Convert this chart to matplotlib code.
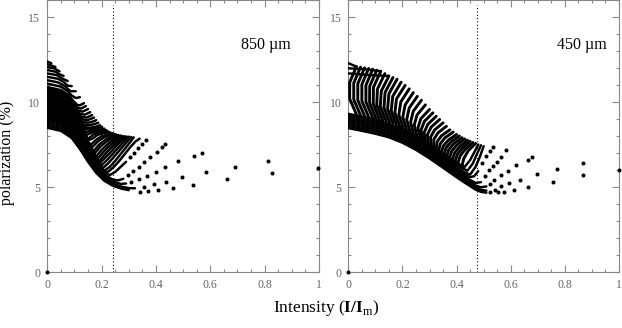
import numpy as np
import matplotlib
matplotlib.use("Agg")
import matplotlib.pyplot as plt
from matplotlib.ticker import MultipleLocator

plt.rcParams["font.family"] = ["Liberation Serif", "DejaVu Serif"]
plt.rcParams["mathtext.fontset"] = "custom"
plt.rcParams["mathtext.rm"] = "Liberation Serif"
plt.rcParams["mathtext.bf"] = "Liberation Serif:bold"

# 850 um: dense strokes (intensity, polarization)
left_strokes = [
    ([0, 0.05, 0.09, 0.12, 0.15, 0.18, 0.21, 0.24, 0.27, 0.30],
     [8.5, 8.32, 7.9, 7.25, 6.5, 5.85, 5.38, 5.1, 4.93, 4.83]),
    ([0, 0.05, 0.09, 0.12, 0.15, 0.18, 0.21, 0.24, 0.27, 0.30, 0.323],
     [8.62, 8.44, 8.02, 7.37, 6.62, 5.97, 5.5, 5.22, 5.05, 4.95, 4.94]),
    ([0, 0.05, 0.09, 0.12, 0.15, 0.18, 0.21, 0.24, 0.27, 0.29],
     [8.74, 8.56, 8.14, 7.49, 6.74, 6.09, 5.62, 5.34, 5.2, 5.22]),
    ([0, 0.05, 0.09, 0.12, 0.15, 0.18, 0.21, 0.24, 0.26, 0.28],
     [8.86, 8.68, 8.26, 7.61, 6.86, 6.21, 5.74, 5.46, 5.4, 5.5]),
    ([0, 0.05, 0.09, 0.12, 0.15, 0.18, 0.21, 0.23, 0.25, 0.27, 0.29],
     [8.98, 8.8, 8.38, 7.73, 6.98, 6.33, 5.86, 5.72, 5.9, 6.2, 6.5]),
    ([0, 0.05, 0.09, 0.12, 0.15, 0.18, 0.21, 0.225, 0.245, 0.265, 0.285, 0.305, 0.325, 0.34],
     [9.04, 8.86, 8.44, 7.79, 7.04, 6.39, 5.92, 5.92, 6.2, 6.55, 6.95, 7.35, 7.7, 7.86]),
    ([0, 0.05, 0.09, 0.12, 0.15, 0.18, 0.21, 0.23, 0.25, 0.27, 0.29, 0.305, 0.318],
     [9.1, 8.92, 8.5, 7.85, 7.1, 6.45, 5.98, 6.2, 6.55, 6.95, 7.35, 7.65, 7.94]),
    ([0, 0.05, 0.09, 0.12, 0.15, 0.18, 0.205, 0.225, 0.245, 0.265, 0.285, 0.309],
     [9.16, 8.98, 8.56, 7.91, 7.16, 6.51, 6.14, 6.42, 6.78, 7.15, 7.52, 7.96]),
    ([0, 0.05, 0.09, 0.12, 0.15, 0.18, 0.20, 0.22, 0.24, 0.26, 0.28, 0.30],
     [9.22, 9.04, 8.62, 7.97, 7.22, 6.57, 6.3, 6.6, 6.95, 7.3, 7.65, 7.98]),
    ([0, 0.05, 0.09, 0.12, 0.15, 0.18, 0.195, 0.215, 0.235, 0.255, 0.275, 0.292],
     [9.28, 9.1, 8.68, 8.03, 7.28, 6.63, 6.45, 6.77, 7.1, 7.45, 7.75, 7.99]),
    ([0, 0.05, 0.09, 0.12, 0.15, 0.19, 0.21, 0.23, 0.25, 0.27, 0.285],
     [9.34, 9.16, 8.74, 8.09, 7.34, 6.52, 6.9, 7.25, 7.55, 7.8, 8.0]),
    ([0, 0.05, 0.09, 0.12, 0.15, 0.185, 0.205, 0.225, 0.245, 0.262, 0.278],
     [9.4, 9.22, 8.8, 8.15, 7.4, 6.68, 7.05, 7.38, 7.65, 7.85, 8.02]),
    ([0, 0.05, 0.09, 0.12, 0.15, 0.18, 0.20, 0.22, 0.24, 0.255, 0.27],
     [9.46, 9.28, 8.86, 8.21, 7.46, 6.81, 7.2, 7.5, 7.75, 7.9, 8.05]),
    ([0, 0.05, 0.09, 0.12, 0.15, 0.175, 0.195, 0.215, 0.235, 0.262],
     [9.52, 9.34, 8.92, 8.27, 7.52, 7.0, 7.38, 7.65, 7.85, 8.07]),
    ([0, 0.05, 0.09, 0.12, 0.15, 0.17, 0.19, 0.21, 0.23, 0.255],
     [9.58, 9.4, 8.98, 8.33, 7.58, 7.13, 7.5, 7.75, 7.93, 8.1]),
    ([0, 0.05, 0.09, 0.12, 0.15, 0.165, 0.185, 0.205, 0.225, 0.248],
     [9.64, 9.46, 9.04, 8.39, 7.64, 7.35, 7.68, 7.9, 8.03, 8.14]),
    ([0, 0.05, 0.09, 0.12, 0.15, 0.16, 0.18, 0.20, 0.22, 0.24],
     [9.7, 9.52, 9.1, 8.45, 7.7, 7.5, 7.8, 8.0, 8.1, 8.18]),
    ([0, 0.05, 0.09, 0.12, 0.15, 0.165, 0.185, 0.21, 0.232],
     [9.76, 9.58, 9.16, 8.51, 7.78, 7.85, 8.08, 8.2, 8.23]),
    ([0, 0.05, 0.09, 0.12, 0.15, 0.17, 0.19, 0.21, 0.225],
     [9.82, 9.64, 9.22, 8.57, 7.85, 8.1, 8.22, 8.25, 8.28]),
    ([0, 0.05, 0.09, 0.12, 0.145, 0.165, 0.185, 0.2, 0.218],
     [9.88, 9.7, 9.28, 8.63, 8.08, 8.22, 8.3, 8.33, 8.36]),
    ([0, 0.05, 0.09, 0.12, 0.14, 0.16, 0.18, 0.195, 0.21],
     [9.94, 9.76, 9.34, 8.69, 8.25, 8.3, 8.35, 8.4, 8.45]),
    ([0, 0.05, 0.09, 0.12, 0.138, 0.158, 0.18, 0.202],
     [10.02, 9.84, 9.42, 8.77, 8.42, 8.4, 8.45, 8.55]),
    ([0, 0.05, 0.09, 0.12, 0.135, 0.155, 0.175, 0.195],
     [10.1, 9.92, 9.5, 8.85, 8.55, 8.5, 8.55, 8.65]),
    ([0, 0.05, 0.09, 0.118, 0.133, 0.152, 0.17, 0.188],
     [10.2, 10.02, 9.6, 9.0, 8.7, 8.65, 8.7, 8.8]),
    ([0, 0.05, 0.09, 0.115, 0.13, 0.15, 0.165, 0.18],
     [10.3, 10.12, 9.7, 9.15, 8.85, 8.8, 8.85, 8.95]),
    ([0, 0.05, 0.09, 0.112, 0.128, 0.148, 0.172],
     [10.4, 10.22, 9.8, 9.3, 9.0, 8.95, 9.1]),
    ([0, 0.05, 0.09, 0.11, 0.125, 0.145, 0.165],
     [10.5, 10.32, 9.9, 9.45, 9.15, 9.1, 9.25]),
    ([0, 0.05, 0.085, 0.105, 0.12, 0.138, 0.158],
     [10.6, 10.42, 10.05, 9.62, 9.32, 9.27, 9.42]),
    ([0, 0.05, 0.08, 0.10, 0.115, 0.13, 0.15],
     [10.7, 10.52, 10.2, 9.8, 9.5, 9.45, 9.6]),
    ([0, 0.05, 0.08, 0.098, 0.112, 0.125, 0.142],
     [10.8, 10.62, 10.3, 9.95, 9.67, 9.63, 9.78]),
    ([0, 0.05, 0.08, 0.095, 0.11, 0.12, 0.135],
     [10.9, 10.72, 10.4, 10.1, 9.85, 9.82, 9.95]),
    ([0, 0.05, 0.075, 0.09, 0.105, 0.12],
     [11.1, 10.92, 10.65, 10.4, 10.25, 10.3]),
    ([0, 0.04, 0.065, 0.085, 0.105], [11.3, 11.17, 10.95, 10.65, 10.65]),
    ([0, 0.04, 0.06, 0.075, 0.09], [11.5, 11.38, 11.2, 10.98, 10.95]),
    ([0, 0.035, 0.055, 0.075], [11.7, 11.6, 11.4, 11.25]),
    ([0, 0.03, 0.045, 0.06], [11.9, 11.8, 11.65, 11.55]),
    ([0, 0.025, 0.045], [12.08, 12.0, 11.82]),
    ([0, 0.03], [12.25, 12.08]),
    ([0, 0.015], [12.4, 12.3]),
]

# 850 um: separate dots on the right
left_dots_x = [0.341, 0.372, 0.408, 0.461, 0.537, 0.663, 0.826, 0.998,
               0.357, 0.394, 0.437, 0.497, 0.585, 0.692, 0.812,
               0.31, 0.339, 0.366, 0.399, 0.434, 0.48, 0.541, 0.568,
               0.298, 0.317, 0.337, 0.357, 0.378, 0.403, 0.421, 0.434,
               0.304, 0.319, 0.335, 0.35, 0.362, 0.0]
left_dots_y = [4.74, 4.78, 4.84, 4.94, 5.13, 5.47, 5.86, 6.12,
               5.04, 5.18, 5.33, 5.59, 5.9, 6.21, 6.57,
               5.33, 5.49, 5.68, 5.92, 6.21, 6.53, 6.86, 7.04,
               5.72, 5.98, 6.21, 6.47, 6.8, 7.1, 7.39, 7.53,
               6.8, 7.04, 7.29, 7.55, 7.78, 0.0]

# 450 um: rows along the lower and upper edges
right_rows = [
    ([0, 0.05, 0.1, 0.15, 0.2, 0.25, 0.3, 0.35, 0.4, 0.43, 0.45, 0.47, 0.49, 0.51],
     [8.48, 8.32, 8.15, 7.94, 7.62, 7.2, 6.7, 6.15, 5.59, 5.27, 5.07, 4.86, 4.73, 4.68]),
    ([0, 0.05, 0.1, 0.15, 0.2, 0.25, 0.3, 0.35, 0.4, 0.43, 0.45, 0.47, 0.49, 0.51],
     [8.6, 8.44, 8.27, 8.06, 7.74, 7.32, 6.82, 6.27, 5.71, 5.39, 5.19, 4.98, 4.85, 4.8]),
    ([0, 0.05, 0.1, 0.15, 0.2, 0.25, 0.3, 0.35, 0.4, 0.43, 0.45, 0.47, 0.49, 0.51],
     [8.72, 8.56, 8.39, 8.18, 7.86, 7.44, 6.94, 6.39, 5.83, 5.51, 5.31, 5.1, 5.0, 5.05]),
    ([0, 0.05, 0.1, 0.15, 0.2, 0.25, 0.3, 0.35, 0.4, 0.43, 0.45, 0.47, 0.49],
     [8.84, 8.68, 8.51, 8.3, 7.98, 7.56, 7.06, 6.51, 5.95, 5.63, 5.43, 5.25, 5.3]),
    ([0, 0.05, 0.1, 0.15, 0.2, 0.25, 0.3, 0.35, 0.4, 0.43, 0.45, 0.465, 0.48],
     [8.96, 8.8, 8.63, 8.42, 8.1, 7.68, 7.18, 6.63, 6.07, 5.75, 5.6, 5.65, 5.95]),
    ([0, 0.1, 0.2, 0.25, 0.3, 0.35, 0.4, 0.43, 0.45, 0.47, 0.485, 0.5],
     [9.08, 8.75, 8.22, 7.8, 7.3, 6.75, 6.19, 5.87, 5.75, 6.2, 6.75, 7.42]),
    ([0, 0.1, 0.2, 0.25, 0.3, 0.35, 0.4, 0.44, 0.46, 0.475, 0.49],
     [9.2, 8.87, 8.34, 7.92, 7.42, 6.87, 6.31, 5.97, 6.4, 6.95, 7.47]),
    ([0, 0.1, 0.2, 0.25, 0.3, 0.35, 0.4, 0.43, 0.45, 0.465, 0.48],
     [9.32, 8.99, 8.46, 8.04, 7.54, 6.99, 6.43, 6.2, 6.6, 7.05, 7.52]),
    ([0, 0.015, 0.03], [12.3, 12.2, 12.1]),
    ([0, 0.06, 0.12], [12.0, 11.95, 11.83]),
    ([0, 0.08, 0.15], [11.7, 11.6, 11.55]),
]

# 450 um: arcs from the upper edge down to the lower band
right_arcs = [
    ([0.03, 0.005, 0.005, 0.03], [12.1, 11.17, 10.21, 9.28]),
    ([0.045, 0.02, 0.02, 0.045], [12.07, 11.13, 10.17, 9.24]),
    ([0.06, 0.035, 0.035, 0.06], [12.03, 11.09, 10.13, 9.19]),
    ([0.075, 0.05, 0.05, 0.075], [11.99, 11.05, 10.08, 9.14]),
    ([0.09, 0.065, 0.065, 0.09], [11.95, 11.0, 10.03, 9.08]),
    ([0.105, 0.079, 0.0785, 0.1025], [11.89, 10.95, 9.98, 9.04]),
    ([0.12, 0.093, 0.092, 0.115], [11.83, 10.89, 9.93, 8.99]),
    ([0.135, 0.1075, 0.105, 0.1275], [11.69, 10.78, 9.85, 8.94]),
    ([0.15, 0.122, 0.118, 0.14], [11.55, 10.67, 9.76, 8.88]),
    ([0.165, 0.136, 0.1315, 0.1525], [11.46, 10.59, 9.69, 8.82]),
    ([0.18, 0.15, 0.145, 0.165], [11.36, 10.5, 9.62, 8.76]),
    ([0.195, 0.164, 0.1585, 0.1775], [11.18, 10.35, 9.51, 8.68]),
    ([0.21, 0.178, 0.172, 0.19], [11.0, 10.2, 9.39, 8.59]),
    ([0.225, 0.194, 0.1865, 0.2025], [10.79, 10.03, 9.26, 8.5]),
    ([0.24, 0.21, 0.201, 0.215], [10.57, 9.85, 9.12, 8.4]),
    ([0.255, 0.225, 0.2155, 0.2275], [10.35, 9.67, 8.98, 8.3]),
    ([0.27, 0.24, 0.23, 0.24], [10.12, 9.48, 8.83, 8.19]),
    ([0.285, 0.254, 0.2435, 0.2525], [9.85, 9.26, 8.66, 8.07]),
    ([0.30, 0.268, 0.257, 0.265], [9.58, 9.04, 8.49, 7.95]),
    ([0.3125, 0.281, 0.2685, 0.275], [9.38, 8.88, 8.36, 7.85]),
    ([0.325, 0.294, 0.28, 0.285], [9.18, 8.71, 8.22, 7.75]),
    ([0.3375, 0.3065, 0.292, 0.295], [8.99, 8.55, 8.09, 7.65]),
    ([0.35, 0.319, 0.304, 0.305], [8.79, 8.38, 7.96, 7.55]),
    ([0.3625, 0.3315, 0.316, 0.315], [8.59, 8.21, 7.82, 7.44]),
    ([0.375, 0.344, 0.328, 0.325], [8.38, 8.03, 7.68, 7.33]),
    ([0.3875, 0.357, 0.3395, 0.335], [8.25, 7.91, 7.56, 7.22]),
    ([0.40, 0.37, 0.351, 0.345], [8.11, 7.78, 7.44, 7.11]),
    ([0.41, 0.38, 0.361, 0.355], [8.02, 7.68, 7.33, 7.0]),
    ([0.42, 0.39, 0.371, 0.365], [7.92, 7.58, 7.22, 6.88]),
    ([0.43, 0.401, 0.382, 0.375], [7.85, 7.49, 7.13, 6.77]),
    ([0.44, 0.412, 0.393, 0.385], [7.77, 7.4, 7.03, 6.66]),
    ([0.45, 0.422, 0.403, 0.395], [7.71, 7.32, 6.94, 6.55]),
    ([0.46, 0.432, 0.413, 0.405], [7.64, 7.24, 6.84, 6.44]),
    ([0.47, 0.443, 0.427, 0.42], [7.58, 7.15, 6.71, 6.28]),
]

right_dots_x = [0.523, 0.554, 0.576, 0.613, 0.665, 0.755, 0.868, 1.0,
                0.542, 0.563, 0.594, 0.634, 0.698, 0.77, 0.866,
                0.525, 0.54, 0.564, 0.591, 0.62, 0.665, 0.677,
                0.505, 0.52, 0.535, 0.548, 0.564, 0.583,
                0.495, 0.51, 0.522, 0.533, 0.0]
right_dots_y = [4.74, 4.74, 4.74, 4.84, 5.04, 5.33, 5.72, 6.02,
                4.84, 5.08, 5.23, 5.43, 5.76, 6.06, 6.41,
                5.2, 5.45, 5.72, 5.98, 6.31, 6.6, 6.8,
                5.65, 6.0, 6.25, 6.47, 6.76, 7.19,
                6.4, 6.85, 7.15, 7.39, 0.0]

panel_labels = ["850 \u00b5m", "450 \u00b5m"]
label_x = [0.713, 0.771]
cut_lines = [0.241, 0.477]

fig = plt.figure(figsize=(6.22, 3.28), dpi=100)
ax1 = fig.add_axes([0.076, 0.170, 0.4368, 0.829])
ax2 = fig.add_axes([0.560, 0.170, 0.4352, 0.829])


def draw(ax, strokes, lw):
    for xs, ys in strokes:
        ax.plot(xs, ys, color="k", lw=lw, solid_capstyle="round",
                solid_joinstyle="round", zorder=3)


draw(ax1, left_strokes, 1.75)
draw(ax2, right_rows, 1.75)
draw(ax2, right_arcs, 2.1)

panels = [(ax1, left_dots_x, left_dots_y), (ax2, right_dots_x, right_dots_y)]
for i, (ax, dx, dy) in enumerate(panels):
    ax.plot(dx, dy, "o", ms=2.9, color="k", mec="none", zorder=3, clip_on=False)
    ax.plot([cut_lines[i], cut_lines[i]], [0, 15.7], color="k", lw=0.8,
            ls=(0, (1, 2)), zorder=2)
    ax.text(label_x[i], 13.4, panel_labels[i], ha="left", va="center", fontsize=11.5)

    ax.set_xlim(0, 1)
    ax.set_ylim(0, 16)
    ax.set_xticks([0, 0.2, 0.4, 0.6, 0.8, 1.0])
    ax.set_xticklabels(["0", "0.2", "0.4", "0.6", "0.8", "1"])
    ax.set_yticks([0, 5, 10, 15])
    ax.xaxis.set_minor_locator(MultipleLocator(0.05))
    ax.yaxis.set_minor_locator(MultipleLocator(1))
    ax.tick_params(which="both", direction="in", top=True, right=True,
                   color="#888888", width=0.8, labelsize=8.5, labelcolor="#666666", pad=5)
    ax.tick_params(which="major", length=5)
    ax.tick_params(which="minor", length=2.5)
    for s in ax.spines.values():
        s.set_color("#888888")
        s.set_linewidth(0.8)

ax1.set_ylabel("polarization (%)", fontsize=11.5)
ax1.yaxis.set_label_coords(-0.118, 0.44)
fig.text(326.5 / 622, 1 - 311.7 / 328, r"Intensity ($\mathbf{I/I}_\mathrm{m}$)",
         ha="center", va="baseline", fontsize=12.5)

fig.savefig("out.png", dpi=100)
